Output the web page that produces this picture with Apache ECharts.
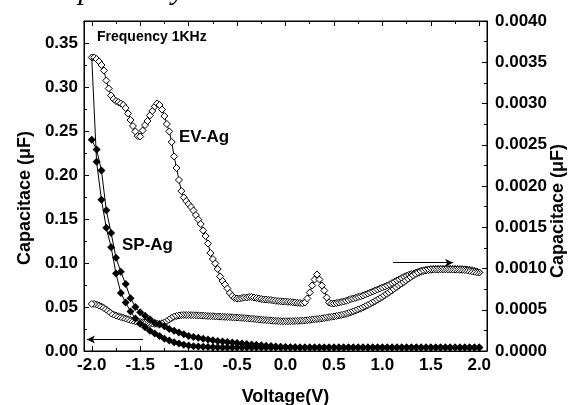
<!DOCTYPE html>
<html>
<head>
<meta charset="utf-8">
<title>Capacitance vs Voltage</title>
<script src="https://cdn.jsdelivr.net/npm/echarts@6/dist/echarts.min.js"></script>
<style>
  html, body { margin: 0; padding: 0; background: #fff; }
  #chart { width: 580px; height: 405px; }
</style>
</head>
<body>
<div id="chart"></div>
<script>
// sweep grids (V)
function sweep(step) {
  var out = [];
  var n = Math.round(4 / step);
  for (var i = 0; i <= n; i++) out.push(+(-2 + i * step).toFixed(3));
  return out;
}
var evVolts = sweep(0.025);
var spVolts = sweep(0.05);

// EV-Ag, right axis (uF), forward (upper) branch, -2.0 -> 2.0
var evForward = [
  0.003558, 0.003558, 0.003539, 0.003509, 0.003467, 0.003400, 0.003279, 0.003182, 0.003097, 0.003055,
  0.003030, 0.003016, 0.003000, 0.002982, 0.002945, 0.002879, 0.002800, 0.002727, 0.002661, 0.002606,
  0.002600, 0.002673, 0.002739, 0.002788, 0.002855, 0.002909, 0.002964, 0.003000, 0.002982, 0.002927,
  0.002848, 0.002752, 0.002661, 0.002533, 0.002358, 0.002218, 0.002073, 0.001939, 0.001861, 0.001818,
  0.001782, 0.001745, 0.001703, 0.001648, 0.001594, 0.001539, 0.001461, 0.001394, 0.001303, 0.001188,
  0.001115, 0.001061, 0.000994, 0.000903, 0.000848, 0.000806, 0.000758, 0.000703, 0.000667, 0.000642,
  0.000636, 0.000636, 0.000642, 0.000648, 0.000648, 0.000655, 0.000655, 0.000648, 0.000642, 0.000636,
  0.000630, 0.000624, 0.000624, 0.000621, 0.000618, 0.000612, 0.000608, 0.000606, 0.000602, 0.000600,
  0.000600, 0.000596, 0.000594, 0.000590, 0.000588, 0.000584, 0.000582, 0.000579, 0.000588, 0.000636,
  0.000709, 0.000794, 0.000867, 0.000927, 0.000867, 0.000794, 0.000733, 0.000648, 0.000588, 0.000576,
  0.000576, 0.000582, 0.000588, 0.000594, 0.000600, 0.000608, 0.000618, 0.000630, 0.000636, 0.000645,
  0.000655, 0.000663, 0.000673, 0.000685, 0.000697, 0.000709, 0.000721, 0.000733, 0.000745, 0.000758,
  0.000770, 0.000782, 0.000794, 0.000808, 0.000824, 0.000839, 0.000855, 0.000869, 0.000885, 0.000899,
  0.000913, 0.000924, 0.000933, 0.000939, 0.000952, 0.000964, 0.000972, 0.000978, 0.000984, 0.000988,
  0.000992, 0.000994, 0.000995, 0.000996, 0.000996, 0.000996, 0.000996, 0.000996, 0.000996, 0.000996,
  0.000995, 0.000994, 0.000993, 0.000992, 0.000990, 0.000988, 0.000984, 0.000979, 0.000972, 0.000964,
  0.000952
];
// EV-Ag reverse (lower) branch, listed from -2.0 to 2.0
var evReverse = [
  0.000570, 0.000570, 0.000564, 0.000552, 0.000539, 0.000521, 0.000503, 0.000479, 0.000457, 0.000442,
  0.000430, 0.000421, 0.000412, 0.000404, 0.000394, 0.000385, 0.000376, 0.000367, 0.000360, 0.000355,
  0.000352, 0.000348, 0.000345, 0.000342, 0.000338, 0.000333, 0.000330, 0.000330, 0.000331, 0.000336,
  0.000345, 0.000361, 0.000382, 0.000400, 0.000415, 0.000424, 0.000430, 0.000434, 0.000436, 0.000436,
  0.000436, 0.000435, 0.000434, 0.000433, 0.000432, 0.000430, 0.000429, 0.000427, 0.000424, 0.000423,
  0.000422, 0.000419, 0.000418, 0.000417, 0.000415, 0.000413, 0.000412, 0.000411, 0.000408, 0.000407,
  0.000406, 0.000404, 0.000401, 0.000399, 0.000396, 0.000394, 0.000392, 0.000389, 0.000385, 0.000382,
  0.000379, 0.000377, 0.000375, 0.000372, 0.000370, 0.000367, 0.000365, 0.000364, 0.000362, 0.000361,
  0.000361, 0.000361, 0.000361, 0.000362, 0.000364, 0.000365, 0.000367, 0.000368, 0.000370, 0.000373,
  0.000377, 0.000381, 0.000384, 0.000388, 0.000390, 0.000394, 0.000399, 0.000405, 0.000410, 0.000415,
  0.000418, 0.000424, 0.000430, 0.000436, 0.000442, 0.000450, 0.000459, 0.000469, 0.000479, 0.000491,
  0.000503, 0.000513, 0.000527, 0.000542, 0.000556, 0.000572, 0.000588, 0.000604, 0.000622, 0.000639,
  0.000657, 0.000676, 0.000695, 0.000715, 0.000736, 0.000758, 0.000778, 0.000799, 0.000818, 0.000838,
  0.000859, 0.000881, 0.000901, 0.000919, 0.000936, 0.000949, 0.000960, 0.000968, 0.000976, 0.000981,
  0.000984, 0.000987, 0.000988, 0.000989, 0.000990, 0.000990, 0.000990, 0.000989, 0.000989, 0.000988,
  0.000988, 0.000987, 0.000985, 0.000984, 0.000982, 0.000978, 0.000972, 0.000966, 0.000960, 0.000955,
  0.000952
];

// SP-Ag, left axis (uF), step 0.05 V
var spBranchA = [
  0.240, 0.229, 0.205, 0.160, 0.134, 0.106, 0.090, 0.076, 0.060, 0.050,
  0.044, 0.040, 0.036, 0.032, 0.030, 0.028, 0.025, 0.023, 0.021, 0.019,
  0.0170, 0.0160, 0.0150, 0.0140, 0.0130, 0.0122, 0.0115, 0.0108, 0.0102, 0.0096,
  0.0090, 0.0085, 0.0080, 0.0075, 0.0070, 0.0065, 0.0060, 0.0056, 0.0052, 0.0049,
  0.0046, 0.0044, 0.0042, 0.0041, 0.0040, 0.0040, 0.0040, 0.0040, 0.0040, 0.0040,
  0.0040, 0.0040, 0.0040, 0.0040, 0.0040, 0.0040, 0.0040, 0.0040, 0.0040, 0.0040,
  0.0040, 0.0040, 0.0040, 0.0040, 0.0040, 0.0040, 0.0040, 0.0040, 0.0040, 0.0040,
  0.0040, 0.0040, 0.0040, 0.0040, 0.0040, 0.0040, 0.0040, 0.0040, 0.0040, 0.0040,
  0.0040
];
var spBranchB = [
  0.333, 0.215, 0.172, 0.140, 0.118, 0.088, 0.066, 0.055, 0.045, 0.037,
  0.031, 0.027, 0.023, 0.020, 0.017, 0.014, 0.012, 0.010, 0.0085, 0.0072,
  0.0062, 0.0055, 0.0050, 0.0047, 0.0045, 0.0043, 0.0042, 0.0041, 0.0040, 0.0040,
  0.0040, 0.0040, 0.0040, 0.0040, 0.0040, 0.0040, 0.0040, 0.0040, 0.0040, 0.0040,
  0.0040, 0.0040, 0.0040, 0.0040, 0.0040, 0.0040, 0.0040, 0.0040, 0.0040, 0.0040,
  0.0040, 0.0040, 0.0040, 0.0040, 0.0040, 0.0040, 0.0040, 0.0040, 0.0040, 0.0040,
  0.0040, 0.0040, 0.0040, 0.0040, 0.0040, 0.0040, 0.0040, 0.0040, 0.0040, 0.0040,
  0.0040, 0.0040, 0.0040, 0.0040, 0.0040, 0.0040, 0.0040, 0.0040, 0.0040, 0.0040,
  0.0040
];

// ticks
var xTicks = [-2, -1.5, -1, -0.5, 0, 0.5, 1, 1.5, 2];
var xMinorTicks = [-1.75, -1.25, -0.75, -0.25, 0.25, 0.75, 1.25, 1.75];
var leftTicks = [0, 0.05, 0.1, 0.15, 0.2, 0.25, 0.3, 0.35];
var leftMinorTicks = [0.025, 0.075, 0.125, 0.175, 0.225, 0.275, 0.325];

var FONT = 'Liberation Sans';
var BLACK = '#000';

function pairs(volts, vals) {
  return vals.map(function (v, i) { return [volts[i], v]; });
}

var evData = pairs(evVolts, evForward).concat(pairs(evVolts, evReverse).reverse());
var spData = pairs(spVolts, spBranchA);
var spDataB = pairs(spVolts, spBranchB);
spDataB[0] = { value: spDataB[0], symbol: 'none' };

var labelStyle = { color: BLACK, fontFamily: FONT, fontWeight: 'bold', fontSize: 17 };
var nameStyle = { color: BLACK, fontFamily: FONT, fontWeight: 'bold', fontSize: 18 };

function xAxisDef(pos, values, len, withLine, withLabel) {
  return {
    type: 'value', position: pos, min: -2.08, max: 2.08,
    axisLine: { show: withLine, onZero: false, lineStyle: { color: BLACK, width: 1 } },
    axisTick: { show: true, inside: true, length: len, customValues: values, lineStyle: { color: BLACK, width: 1 } },
    axisLabel: withLabel ? Object.assign({ customValues: values, margin: 6, formatter: function (v) { return v.toFixed(1); } }, labelStyle) : { show: false },
    splitLine: { show: false }
  };
}

var spLine = {
  type: 'line', xAxisIndex: 0, yAxisIndex: 0,
  symbol: 'diamond', symbolSize: 8, showAllSymbol: true,
  itemStyle: { color: BLACK, borderColor: BLACK, borderWidth: 0 },
  lineStyle: { color: BLACK, width: 1 },
  emphasis: { disabled: true }, z: 3
};

var chart = echarts.init(document.getElementById('chart'), null, { renderer: 'canvas' });
var option = {
  animation: false,
  backgroundColor: '#fff',
  grid: {
    left: 84, right: 93, top: 21, bottom: 54, outerBoundsMode: 'none',
    show: true, borderColor: BLACK, borderWidth: 1, backgroundColor: 'transparent'
  },
  xAxis: [
    Object.assign(xAxisDef('bottom', xTicks, 5, true, true), {
      name: 'Voltage(V)', nameLocation: 'middle', nameGap: 37, nameTextStyle: nameStyle
    }),
    xAxisDef('bottom', xMinorTicks, 3, false, false),
    xAxisDef('top', xTicks, 5, true, false),
    xAxisDef('top', xMinorTicks, 3, false, false)
  ],
  yAxis: [
    {
      type: 'value', position: 'left', min: 0, max: 0.375,
      name: 'Capacitace (\u03bcF)', nameLocation: 'middle', nameRotate: 90, nameGap: 50, nameMoveOverlap: false,
      nameTextStyle: Object.assign({ padding: [0, 24, 0, 0] }, nameStyle),
      axisLine: { show: true, onZero: false, lineStyle: { color: BLACK, width: 1 } },
      axisTick: { show: true, inside: true, length: 5, customValues: leftTicks, lineStyle: { color: BLACK } },
      axisLabel: Object.assign({ customValues: leftTicks, margin: 6, formatter: function (v) { return v.toFixed(2); } }, labelStyle),
      splitLine: { show: false }
    },
    {
      type: 'value', position: 'left', min: 0, max: 0.375,
      axisLine: { show: false, onZero: false },
      axisTick: { show: true, inside: true, length: 3, customValues: leftMinorTicks, lineStyle: { color: BLACK } },
      axisLabel: { show: false },
      splitLine: { show: false }
    },
    {
      type: 'value', position: 'right', min: 0, max: 0.004, interval: 0.0005,
      name: 'Capacitace (\u03bcF)', nameLocation: 'middle', nameRotate: 90, nameGap: 62, nameMoveOverlap: false,
      nameTextStyle: Object.assign({ padding: [0, 50, 0, 0] }, nameStyle),
      axisLine: { show: true, onZero: false, lineStyle: { color: BLACK, width: 1 } },
      axisTick: { show: true, inside: true, length: 5, lineStyle: { color: BLACK } },
      minorTick: { show: true, splitNumber: 2, length: 3, lineStyle: { color: BLACK } },
      axisLabel: Object.assign({ margin: 8, formatter: function (v) { return v.toFixed(4); } }, labelStyle),
      splitLine: { show: false }, minorSplitLine: { show: false }
    }
  ],
  series: [
    {
      name: 'EV-Ag', type: 'line', xAxisIndex: 0, yAxisIndex: 2,
      data: evData,
      symbol: 'diamond', symbolSize: 7, showAllSymbol: true,
      itemStyle: { color: '#fff', borderColor: BLACK, borderWidth: 1 },
      lineStyle: { color: BLACK, width: 1 },
      emphasis: { disabled: true }, z: 2,
      markLine: {
        silent: true, symbol: ['none', 'arrow'], symbolSize: [6, 8],
        lineStyle: { color: BLACK, width: 1, type: 'solid' }, label: { show: false },
        data: [[{ coord: [1.11, 0.00107] }, { coord: [1.73, 0.00107] }]]
      }
    },
    Object.assign({ name: 'SP-Ag', data: spData }, spLine, {
      markLine: {
        silent: true, symbol: ['none', 'arrow'], symbolSize: [6, 8],
        lineStyle: { color: BLACK, width: 1, type: 'solid' }, label: { show: false },
        data: [[{ coord: [-1.47, 0.013] }, { coord: [-2.05, 0.013] }]]
      }
    }),
    Object.assign({ name: 'SP-Ag', data: spDataB }, spLine)
  ],
  graphic: [
    { type: 'text', x: 97, y: 37, style: { text: 'Frequency 1KHz', fill: BLACK, font: 'bold 14px "Liberation Sans"', verticalAlign: 'middle' } },
    { type: 'text', x: 179, y: 137, style: { text: 'EV-Ag', fill: BLACK, font: 'bold 17px "Liberation Sans"', verticalAlign: 'middle' } },
    { type: 'text', x: 122, y: 245, style: { text: 'SP-Ag', fill: BLACK, font: 'bold 17px "Liberation Sans"', verticalAlign: 'middle' } },
    // caption of the page above, cut off at the top edge
    { type: 'text', x: 43, y: -9, style: { text: 'respectively', fill: BLACK, font: 'italic 30px "Liberation Serif"', verticalAlign: 'middle' } }
  ]
};
chart.setOption(option);
</script>
</body>
</html>
